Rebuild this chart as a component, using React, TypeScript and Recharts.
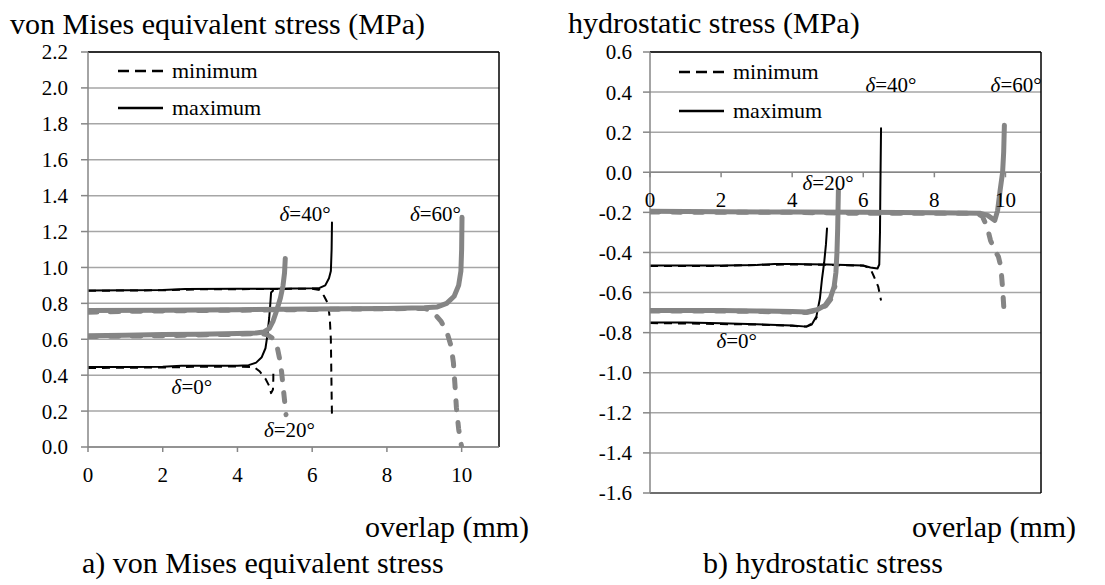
import React from "react";
import {
  LineChart,
  Line,
  XAxis,
  YAxis,
  CartesianGrid,
  ReferenceLine,
  ReferenceDot,
  Legend,
} from "recharts";

type Pt = [number, number];

// x axis (overlap, mm)
const X_TICKS = [0, 2, 4, 6, 8, 10];

// a) von Mises equivalent stress (MPa)
const VM_TICKS = [0, 0.2, 0.4, 0.6, 0.8, 1.0, 1.2, 1.4, 1.6, 1.8, 2.0, 2.2];
const vmMin0: Pt[] = [[0, 0.44], [2, 0.443], [3, 0.447], [4, 0.448], [4.45, 0.445], [4.6, 0.42], [4.75, 0.38], [4.85, 0.34], [4.9, 0.3], [4.95, 0.32], [4.96, 0.38], [4.96, 0.44]];
const vmMax0: Pt[] = [[0, 0.445], [1, 0.446], [2, 0.447], [2.5, 0.452], [3, 0.452], [4, 0.453], [4.3, 0.456], [4.5, 0.47], [4.65, 0.5], [4.75, 0.55], [4.8, 0.62], [4.85, 0.72], [4.88, 0.8], [4.9, 0.86], [4.95, 0.87]];
const vmMin20: Pt[] = [[0, 0.615], [2, 0.62], [4, 0.628], [4.6, 0.633], [4.8, 0.625], [4.95, 0.605], [5.05, 0.57], [5.12, 0.5], [5.18, 0.42], [5.22, 0.34], [5.26, 0.26], [5.3, 0.18]];
const vmMax20: Pt[] = [[0, 0.62], [1, 0.622], [2, 0.626], [3, 0.628], [4, 0.632], [4.5, 0.635], [4.7, 0.64], [4.85, 0.66], [4.95, 0.7], [5.05, 0.76], [5.15, 0.83], [5.22, 0.9], [5.26, 0.97], [5.28, 1.05]];
const vmMin40: Pt[] = [[0, 0.87], [2, 0.873], [3, 0.878], [5, 0.88], [6, 0.882], [6.2, 0.875], [6.32, 0.84], [6.42, 0.8], [6.47, 0.72], [6.5, 0.6], [6.51, 0.45], [6.52, 0.3], [6.53, 0.17]];
const vmMax40: Pt[] = [[0, 0.872], [1, 0.873], [2, 0.875], [2.6, 0.88], [4, 0.881], [5, 0.882], [6, 0.884], [6.2, 0.886], [6.35, 0.9], [6.45, 0.94], [6.5, 0.98], [6.52, 1.1], [6.53, 1.25]];
const vmMin60: Pt[] = [[0, 0.75], [1, 0.755], [2, 0.758], [4, 0.762], [6, 0.766], [8, 0.77], [9, 0.772], [9.2, 0.76], [9.45, 0.7], [9.62, 0.63], [9.72, 0.56], [9.78, 0.47], [9.82, 0.35], [9.86, 0.22], [9.92, 0.1], [10, 0.0]];
const vmMax60: Pt[] = [[0, 0.76], [2, 0.762], [4, 0.765], [6, 0.768], [8, 0.772], [9, 0.775], [9.35, 0.78], [9.6, 0.8], [9.8, 0.84], [9.92, 0.9], [9.98, 0.98], [10.0, 1.1], [10.01, 1.28]];
const vmLabels: { deg: string; x: number; y: number }[] = [
  { deg: "0", x: 2.78, y: 0.333 },
  { deg: "20", x: 5.39, y: 0.094 },
  { deg: "40", x: 5.81, y: 1.3 },
  { deg: "60", x: 9.3, y: 1.3 },
];

// b) hydrostatic stress (MPa)
const HS_TICKS = [-1.6, -1.4, -1.2, -1.0, -0.8, -0.6, -0.4, -0.2, 0, 0.2, 0.4, 0.6];
const hsMin0: Pt[] = [[0, -0.752], [2, -0.757], [3, -0.76], [4, -0.766], [4.4, -0.77], [4.6, -0.75], [4.7, -0.72]];
const hsMax0: Pt[] = [[0, -0.75], [1, -0.75], [2, -0.753], [3, -0.758], [4, -0.765], [4.4, -0.77], [4.55, -0.76], [4.68, -0.72], [4.78, -0.63], [4.84, -0.53], [4.9, -0.45], [4.95, -0.36], [4.98, -0.28]];
const hsMin20: Pt[] = [[0, -0.692], [2, -0.692], [4, -0.697], [4.4, -0.7], [4.7, -0.688], [4.95, -0.665], [5.1, -0.63], [5.2, -0.57]];
const hsMax20: Pt[] = [[0, -0.69], [1, -0.69], [2, -0.69], [3, -0.692], [4, -0.695], [4.4, -0.697], [4.7, -0.686], [4.92, -0.665], [5.08, -0.625], [5.18, -0.57], [5.23, -0.5], [5.26, -0.4], [5.28, -0.28], [5.3, -0.09]];
const hsMin40: Pt[] = [[0, -0.467], [2, -0.467], [3, -0.462], [4, -0.46], [5, -0.462], [6, -0.466], [6.2, -0.48], [6.3, -0.52], [6.42, -0.57], [6.5, -0.64]];
const hsMax40: Pt[] = [[0, -0.465], [2, -0.465], [3, -0.462], [3.5, -0.458], [4, -0.458], [5, -0.46], [6, -0.465], [6.2, -0.475], [6.4, -0.48], [6.45, -0.46], [6.47, -0.3], [6.48, -0.1], [6.5, 0.22]];
const hsMin60: Pt[] = [[0, -0.198], [2, -0.2], [4, -0.2], [6, -0.205], [8, -0.205], [9.2, -0.205], [9.35, -0.22], [9.48, -0.27], [9.58, -0.34], [9.7, -0.39], [9.8, -0.42], [9.87, -0.47], [9.92, -0.58], [9.97, -0.72]];
const hsMax60: Pt[] = [[0, -0.195], [2, -0.197], [4, -0.198], [6, -0.2], [8, -0.202], [9.3, -0.205], [9.5, -0.215], [9.7, -0.24], [9.78, -0.19], [9.85, -0.09], [9.92, 0.0], [9.95, 0.1], [9.97, 0.235]];
const hsLabels: { deg: string; x: number; y: number }[] = [
  { deg: "0", x: 2.44, y: -0.84 },
  { deg: "20", x: 5.01, y: -0.055 },
  { deg: "40", x: 6.78, y: 0.435 },
  { deg: "60", x: 10.3, y: 0.435 },
];

const LEGEND_ITEMS = [
  { label: "minimum", dash: "11 6" },
  { label: "maximum", dash: undefined },
];

const BLACK = "#000000";
const GRAY = "#858585";
const GRID = "#a6a6a6";
const AXIS = "#868686";

const toData = (pts: Pt[]) => pts.map(([x, y]) => ({ x, y }));

function DeltaLabel(props: any) {
  const vb = props.viewBox || {};
  const cx = (vb.x ?? 0) + (vb.width ?? 0) / 2;
  const cy = (vb.y ?? 0) + (vb.height ?? 0) / 2;
  return (
    <text x={cx} y={cy} textAnchor="middle" dominantBaseline="central" fontSize={21} fill={BLACK}>
      <tspan fontStyle="italic">δ</tspan>={props.deg}°
    </text>
  );
}

function LegendBox({ rowHeight }: { rowHeight: number }) {
  return (
    <div style={{ fontSize: 22, color: BLACK }}>
      {LEGEND_ITEMS.map((it) => (
        <div key={it.label} style={{ display: "flex", alignItems: "center", height: rowHeight }}>
          <svg width={48} height={10} style={{ marginRight: 7 }}>
            <line x1={1} x2={46} y1={5} y2={5} stroke={BLACK} strokeWidth={2.5} strokeDasharray={it.dash} />
          </svg>
          <span>{it.label}</span>
        </div>
      ))}
    </div>
  );
}

function series(min: Pt[], max: Pt[], color: string, thick: boolean, key: string) {
  const w = thick ? 5 : 2;
  return [
    <Line
      key={key + "min"}
      data={toData(min)}
      dataKey="y"
      type="linear"
      stroke={color}
      strokeWidth={w}
      strokeDasharray={thick ? "9 13" : "8 6"}
      strokeLinecap={thick ? "round" : "butt"}
      strokeLinejoin="round"
      dot={false}
      activeDot={false}
      isAnimationActive={false}
      legendType="none"
    />,
    <Line
      key={key + "max"}
      data={toData(max)}
      dataKey="y"
      type="linear"
      stroke={color}
      strokeWidth={w}
      strokeLinecap="round"
      strokeLinejoin="round"
      dot={false}
      activeDot={false}
      isAnimationActive={false}
      legendType="none"
    />,
  ];
}

const tickStyle = { fill: BLACK, fontSize: 21 };

export default function App() {
  return (
    <div className="stress-fig" style={{ position: "absolute", left: 0, top: 0, width: 1105, height: 585, background: "#fff" }}>
      <style>{`.stress-fig, .stress-fig * { font-family: "Liberation Serif", "Times New Roman", serif !important; }`}</style>
      {/* a) von Mises */}
      <div style={{ position: "absolute", left: 0, top: 0 }}>
        <LineChart width={520} height={510} margin={{ top: 52, right: 21, bottom: 23, left: 0 }}>
          <CartesianGrid vertical={false} stroke={GRID} strokeWidth={1.5} />
          <XAxis
            type="number"
            dataKey="x"
            domain={[0, 11]}
            ticks={X_TICKS}
            interval={0}
            allowDataOverflow
            height={40}
            tickSize={5}
            tickMargin={15}
            stroke={AXIS}
            strokeWidth={1.5}
            tick={tickStyle}
          />
          <YAxis
            type="number"
            domain={[0, 2.2]}
            ticks={VM_TICKS}
            interval={0}
            allowDataOverflow
            width={88}
            tickSize={7}
            tickMargin={13}
            stroke={AXIS}
            strokeWidth={1.5}
            tick={tickStyle}
            tickFormatter={(v: number) => v.toFixed(1)}
          />
          <ReferenceLine y={2.2} stroke={BLACK} strokeWidth={1.5} />
          <ReferenceLine x={11} stroke={BLACK} strokeWidth={1.5} />
          <Legend
            layout="vertical"
            verticalAlign="middle"
            align="center"
            wrapperStyle={{ left: 117, top: 52, width: 160 }}
            content={<LegendBox rowHeight={37} />}
          />
          {series(vmMin0, vmMax0, BLACK, false, "vm0")}
          {series(vmMin40, vmMax40, BLACK, false, "vm40")}
          {series(vmMin20, vmMax20, GRAY, true, "vm20")}
          {series(vmMin60, vmMax60, GRAY, true, "vm60")}
          {vmLabels.map((l) => (
            <ReferenceDot key={"vml" + l.deg} x={l.x} y={l.y} r={0} fill="none" stroke="none" label={<DeltaLabel deg={l.deg} />} />
          ))}
        </LineChart>
      </div>

      {/* b) hydrostatic */}
      <div style={{ position: "absolute", left: 560, top: 0 }}>
        <LineChart width={545} height={515} margin={{ top: 52, right: 64, bottom: 22, left: 0 }}>
          <CartesianGrid vertical={false} stroke={GRID} strokeWidth={1.5} />
          <XAxis type="number" dataKey="x" domain={[0, 11]} allowDataOverflow hide />
          <YAxis
            type="number"
            domain={[-1.6, 0.6]}
            ticks={HS_TICKS}
            interval={0}
            allowDataOverflow
            width={90}
            tickSize={7}
            tickMargin={11}
            stroke={AXIS}
            strokeWidth={1.5}
            tick={tickStyle}
            tickFormatter={(v: number) => v.toFixed(1)}
          />
          <ReferenceLine y={0.6} stroke={BLACK} strokeWidth={1.5} />
          <ReferenceLine y={-1.6} stroke="#555" strokeWidth={1.5} />
          <ReferenceLine x={11} stroke={BLACK} strokeWidth={1.5} />
          <ReferenceLine y={0} stroke={AXIS} strokeWidth={1.5} />
          {X_TICKS.map((t) => (
            <ReferenceLine
              key={"hx" + t}
              segment={[{ x: t, y: 0 }, { x: t, y: -0.025 }]}
              stroke={AXIS}
              strokeWidth={1.5}
              label={{ value: String(t), position: "bottom", offset: 15, fill: BLACK, fontSize: 21 }}
            />
          ))}
          <Legend
            layout="vertical"
            verticalAlign="middle"
            align="center"
            wrapperStyle={{ left: 118, top: 52, width: 160 }}
            content={<LegendBox rowHeight={39} />}
          />
          {series(hsMin0, hsMax0, BLACK, false, "hs0")}
          {series(hsMin40, hsMax40, BLACK, false, "hs40")}
          {series(hsMin20, hsMax20, GRAY, true, "hs20")}
          {series(hsMin60, hsMax60, GRAY, true, "hs60")}
          {hsLabels.map((l) => (
            <ReferenceDot key={"hsl" + l.deg} x={l.x} y={l.y} r={0} fill="none" stroke="none" label={<DeltaLabel deg={l.deg} />} />
          ))}
        </LineChart>
      </div>

      {/* titles and captions */}
      <svg width={1105} height={585} style={{ position: "absolute", left: 0, top: 0, pointerEvents: "none" }}>
        <g fontSize={30} fill={BLACK}>
          <text x={10} y={34}>von Mises equivalent stress (MPa)</text>
          <text x={568} y={33}>hydrostatic stress (MPa)</text>
          <text x={365} y={537}>overlap (mm)</text>
          <text x={912} y={537}>overlap (mm)</text>
          <text x={82} y={573}>a) von Mises equivalent stress</text>
          <text x={703} y={573}>b) hydrostatic stress</text>
        </g>
      </svg>
    </div>
  );
}
